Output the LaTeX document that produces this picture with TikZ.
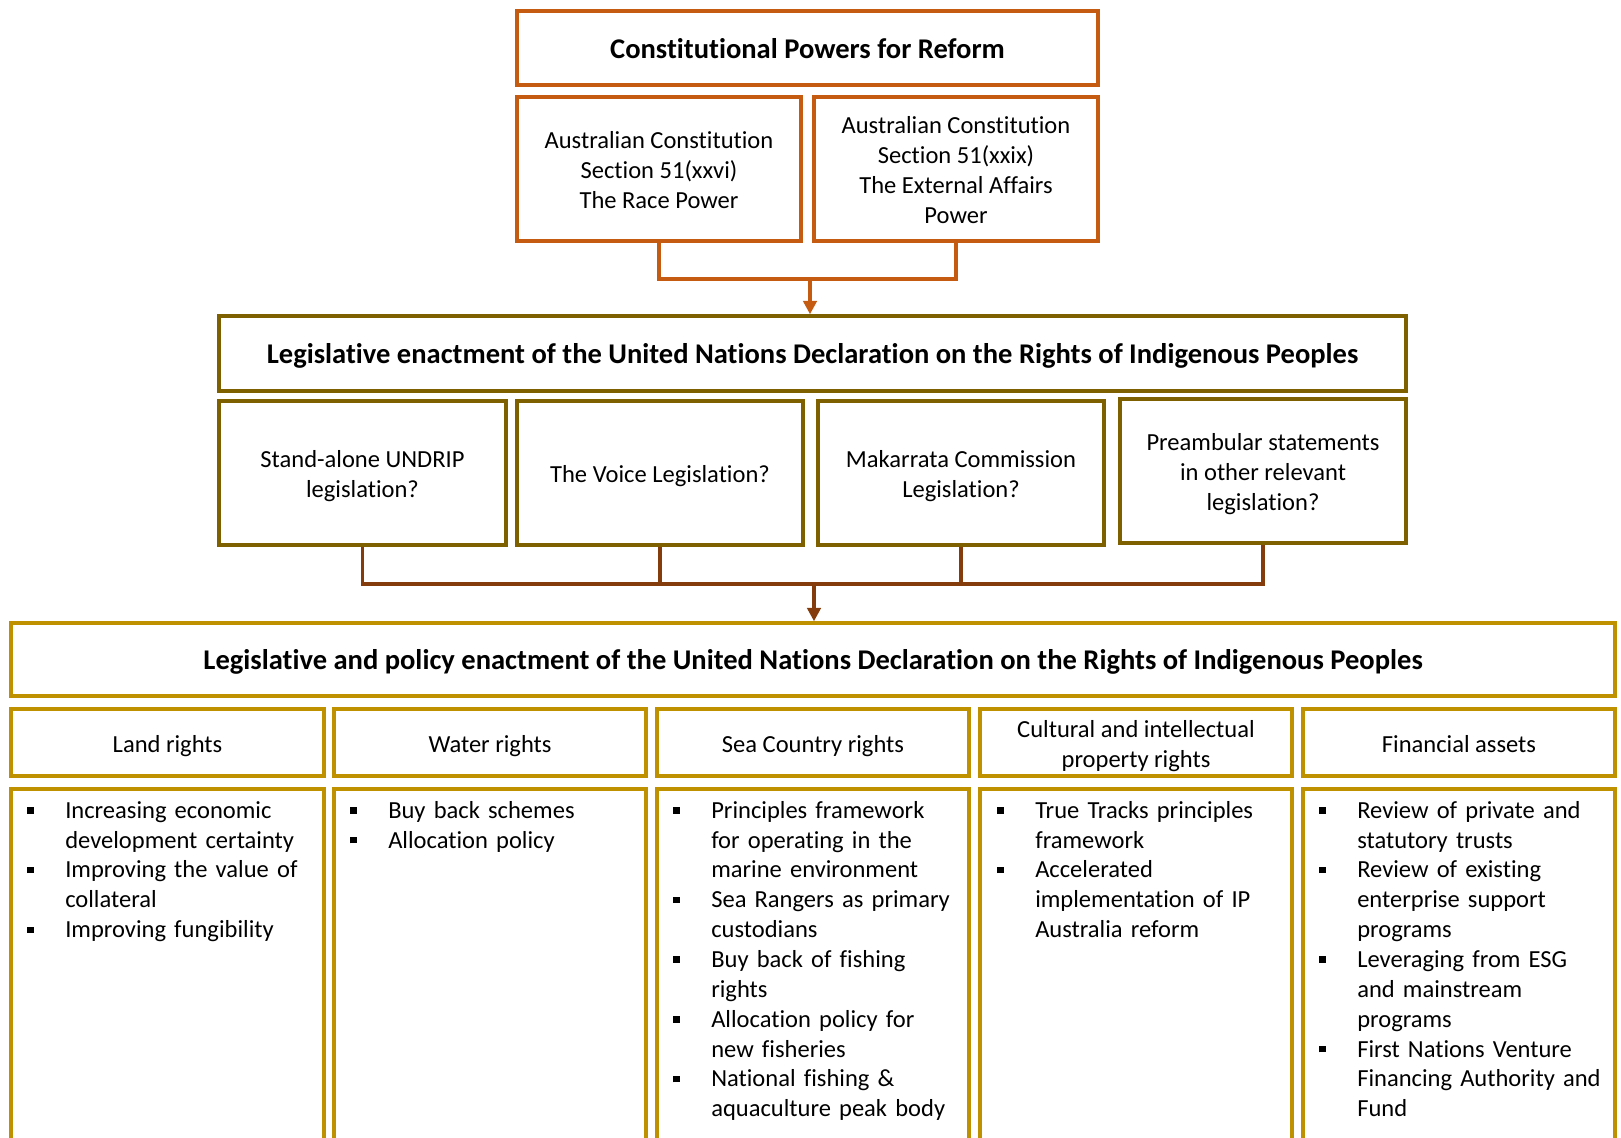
\documentclass[tikz,border=0pt]{standalone}
\usepackage{fontspec}
\setmainfont{Carlito}[Ligatures=NoCommon]
\usetikzlibrary{arrows.meta}
\definecolor{corange}{HTML}{C55A11}
\definecolor{colive}{HTML}{7F6000}
\definecolor{cgold}{HTML}{BF9000}
\definecolor{cbrown}{HTML}{843C0C}
\newcommand\tallstrut{\rule{0pt}{\dimexpr0.7\baselineskip+5.4pt\relax}}
\tikzset{
 box/.style={draw, line width=2.6pt, inner sep=0pt, align=center, font=\fontsize{18.4}{22.4}\selectfont, text=black,
   execute at begin node=\tallstrut, execute at end node=\strut},
 obox/.style={box, draw=corange},
 lbox/.style={box, draw=colive},
 gbox/.style={box, draw=cgold},
 span/.style n args={4}{minimum width={(#3-#1)*0.75pt}, minimum height={(#4-#2)*0.75pt}},
 titletext/.style={font=\bfseries\fontsize{21.4}{25}\selectfont},
 listtext/.style={anchor=north west, inner sep=0pt, align=left, text width=235pt, font=\fontsize{18.4}{22.4}\selectfont},
 conna/.style={draw=corange, line width=2.8pt},
 connb/.style={draw=cbrown, line width=2.6pt},
 tiparrow/.style={-{Triangle[length=10pt,width=10pt]}},
}
\newcommand\bl{\makebox[28.5pt][l]{\rule[3.5pt]{4.8pt}{4.8pt}}}
\newcommand\ind{\hspace*{28.5pt}}
\begin{document}
\begin{tikzpicture}[x=0.75pt,y=-0.75pt]
\useasboundingbox (0,0) rectangle (1621,1138);
\clip (0,0) rectangle (1621,1138);
% level 1
\node[obox, titletext, span={517}{11}{1098}{85}] (top) at (807.5,48) {Constitutional Powers for Reform};
\node[obox, span={517}{97}{801}{241}] (race) at (659,169) {\tallstrut Australian Constitution\\Section 51(xxvi)\\The Race Power\strut};
\node[obox, span={814}{97}{1098}{241}] (ext) at (956,169) {\tallstrut Australian Constitution\\Section 51(xxix)\\The External Affairs\\Power\strut};
% level 2
\node[lbox, titletext, span={219}{316}{1406}{391}] (leg) at (812.5,353.5) {Legislative enactment of the United Nations Declaration on the Rights of Indigenous Peoples};
\node[lbox, span={219}{401}{506}{545}] (b1) at (362.5,473) {\tallstrut Stand-alone UNDRIP\\legislation?\strut};
\node[lbox, span={517}{401}{803}{545}] (b2) at (660,473) {The Voice Legislation?};
\node[lbox, span={818}{401}{1104}{545}] (b3) at (961,473) {\tallstrut Makarrata Commission\\Legislation?\strut};
\node[lbox, span={1120}{399}{1406}{543}] (b4) at (1263,471) {\tallstrut Preambular statements\\in other relevant\\legislation?\strut};
% level 3
\node[gbox, titletext, span={11}{623}{1615}{696}] (big) at (813,659.5) {Legislative and policy enactment of the United Nations Declaration on the Rights of Indigenous Peoples};
\node[gbox, span={11}{709}{324}{776}] (h1) at (167.5,742.5) {Land rights};
\node[gbox, span={334}{709}{646}{776}] (h2) at (490,742.5) {Water rights};
\node[gbox, span={657}{709}{969}{776}] (h3) at (813,742.5) {Sea Country rights};
\node[gbox, span={980}{709}{1292}{776}] (h4) at (1136,742.5) {\tallstrut Cultural and intellectual\\property rights\strut};
\node[gbox, span={1303}{709}{1615}{776}] (h5) at (1459,742.5) {Financial assets};
\node[gbox, span={11}{789}{324}{1171}] (c1) at (167.5,980) {};
\node[gbox, span={334}{789}{646}{1171}] (c2) at (490,980) {};
\node[gbox, span={657}{789}{969}{1171}] (c3) at (813,980) {};
\node[gbox, span={980}{789}{1292}{1171}] (c4) at (1136,980) {};
\node[gbox, span={1303}{789}{1615}{1171}] (c5) at (1459,980) {};
% lists
\node[listtext] (t1) at (27,797) {\strut\bl Increasing economic\\ \ind development certainty\\ \bl Improving the value of\\ \ind collateral\\ \bl Improving fungibility};
\node[listtext] (t2) at (350,797) {\strut\bl Buy back schemes\\ \bl Allocation policy};
\node[listtext] (t3) at (673,797) {\strut\bl Principles framework\\ \ind for operating in the\\ \ind marine environment\\ \bl Sea Rangers as primary\\ \ind custodians\\ \bl Buy back of fishing\\ \ind rights\\ \bl Allocation policy for\\ \ind new fisheries\\ \bl National fishing \&\\ \ind aquaculture peak body};
\node[listtext] (t4) at (997,797) {\strut\bl True Tracks principles\\ \ind framework\\ \bl Accelerated\\ \ind implementation of IP\\ \ind Australia reform};
\node[listtext] (t5) at (1319,797) {\strut\bl Review of private and\\ \ind statutory trusts\\ \bl Review of existing\\ \ind enterprise support\\ \ind programs\\ \bl Leveraging from ESG\\ \ind and mainstream\\ \ind programs\\ \bl First Nations Venture\\ \ind Financing Authority and\\ \ind Fund};
% connectors
\coordinate (ja) at (810,279);
\draw[conna] (race.south) |- (ja);
\draw[conna] (ext.south) |- (ja);
\draw[conna, tiparrow] (ja) -- (ja |- leg.north);
\coordinate (jb) at (814,584);
\draw[connb] (b1.south) |- (jb);
\draw[connb] (b2.south) |- (jb);
\draw[connb] (b3.south) |- (jb);
\draw[connb] (b4.south) |- (jb);
\draw[connb, tiparrow] (jb) -- (jb |- big.north);
\end{tikzpicture}
\end{document}
